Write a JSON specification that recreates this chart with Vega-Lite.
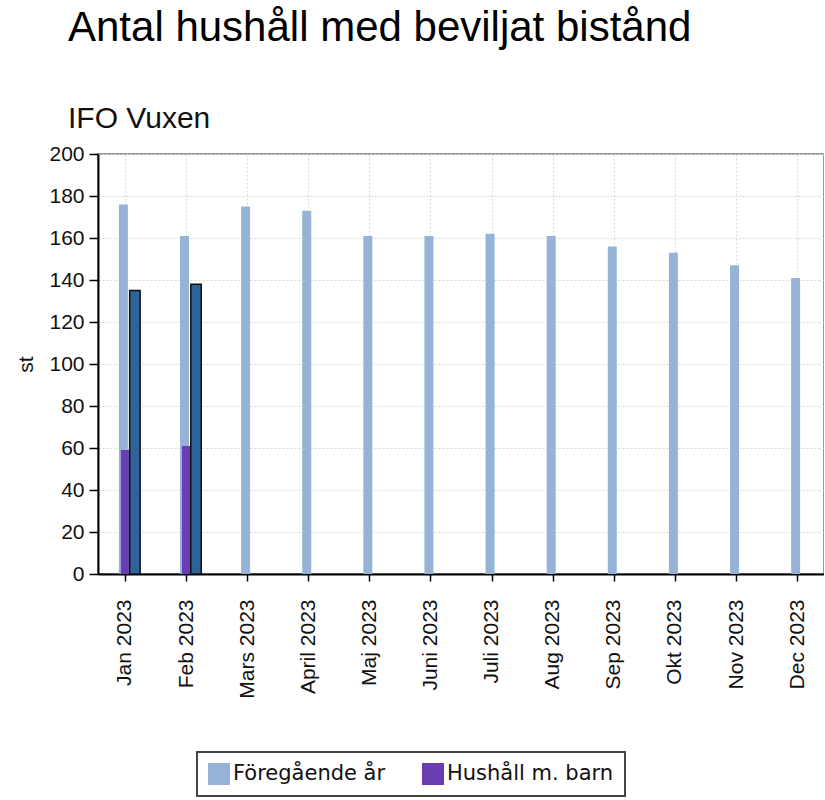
{
  "$schema": "https://vega.github.io/schema/vega-lite/v6.json",
  "width": 726,
  "height": 420,
  "padding": {"left": 15, "top": 7, "right": 0, "bottom": 0},
  "title": {
    "text": "Antal hushåll med beviljat bistånd",
    "subtitle": "IFO Vuxen",
    "anchor": "start",
    "frame": "group",
    "dx": -30,
    "fontSize": 42,
    "fontWeight": "normal",
    "color": "#000000",
    "subtitleFontSize": 30,
    "subtitleColor": "#111111",
    "subtitlePadding": 54,
    "offset": 8
  },
  "data": {
    "values": [
      {"month": "Jan 2023", "series": "Föregående år", "value": 176},
      {"month": "Feb 2023", "series": "Föregående år", "value": 161},
      {"month": "Mars 2023", "series": "Föregående år", "value": 175},
      {"month": "April 2023", "series": "Föregående år", "value": 173},
      {"month": "Maj 2023", "series": "Föregående år", "value": 161},
      {"month": "Juni 2023", "series": "Föregående år", "value": 161},
      {"month": "Juli 2023", "series": "Föregående år", "value": 162},
      {"month": "Aug 2023", "series": "Föregående år", "value": 161},
      {"month": "Sep 2023", "series": "Föregående år", "value": 156},
      {"month": "Okt 2023", "series": "Föregående år", "value": 153},
      {"month": "Nov 2023", "series": "Föregående år", "value": 147},
      {"month": "Dec 2023", "series": "Föregående år", "value": 141},
      {"month": "Jan 2023", "series": "Hushåll m. barn", "value": 59},
      {"month": "Feb 2023", "series": "Hushåll m. barn", "value": 61},
      {"month": "Jan 2023", "series": "Innevarande år", "value": 135},
      {"month": "Feb 2023", "series": "Innevarande år", "value": 138}
    ]
  },
  "encoding": {
    "x": {
      "field": "month",
      "type": "ordinal",
      "sort": ["Jan 2023", "Feb 2023", "Mars 2023", "April 2023", "Maj 2023", "Juni 2023", "Juli 2023", "Aug 2023", "Sep 2023", "Okt 2023", "Nov 2023", "Dec 2023"],
      "scale": {"type": "point", "padding": 0.44},
      "axis": {
        "title": null,
        "labelAngle": -90,
        "labelFontSize": 21,
        "labelColor": "#111111",
        "labelPadding": 18,
        "tickSize": 7,
        "tickColor": "#000000",
        "tickWidth": 1.5,
        "domainColor": "#000000",
        "domainWidth": 2,
        "grid": true,
        "gridColor": "#d6d6d6",
        "gridDash": [2, 2]
      }
    },
    "y": {
      "field": "value",
      "type": "quantitative",
      "scale": {"domain": [0, 200], "nice": false},
      "axis": {
        "title": "st",
        "values": [0, 20, 40, 60, 80, 100, 120, 140, 160, 180, 200],
        "titleFontSize": 21,
        "titleFontWeight": "normal",
        "titleColor": "#111111",
        "titlePadding": 12,
        "labelFontSize": 21,
        "labelColor": "#111111",
        "labelPadding": 5,
        "tickSize": 9,
        "tickColor": "#000000",
        "tickWidth": 1.5,
        "domainColor": "#000000",
        "domainWidth": 2,
        "grid": true,
        "gridColor": "#d6d6d6",
        "gridDash": [2, 2]
      }
    }
  },
  "layer": [
    {
      "transform": [{"filter": "datum.series === 'Föregående år'"}],
      "mark": {"type": "bar", "size": 9, "xOffset": -1.5},
      "encoding": {
        "color": {
          "field": "series",
          "type": "nominal",
          "scale": {"domain": ["Föregående år", "Hushåll m. barn"], "range": ["#95B3D7", "#6A3DB5"]},
          "legend": {
            "title": null,
            "orient": "none",
            "legendX": 99,
            "legendY": 598,
            "direction": "horizontal",
            "symbolType": "square",
            "symbolSize": 484,
            "symbolStrokeWidth": 0,
            "labelFont": "DejaVu Sans",
            "labelFontSize": 21,
            "labelColor": "#111111",
            "labelLimit": 300,
            "labelOffset": 3,
            "columnPadding": 36,
            "padding": 11,
            "strokeColor": "#444444",
            "fillColor": "#ffffff",
            "cornerRadius": 0
          }
        }
      }
    },
    {
      "transform": [{"filter": "datum.series === 'Hushåll m. barn'"}],
      "mark": {"type": "bar", "size": 8},
      "encoding": {
        "color": {
          "field": "series",
          "type": "nominal",
          "scale": {"domain": ["Föregående år", "Hushåll m. barn"], "range": ["#95B3D7", "#6A3DB5"]}
        }
      }
    },
    {
      "transform": [{"filter": "datum.series === 'Innevarande år'"}],
      "mark": {"type": "bar", "size": 10.5, "xOffset": 10, "color": "#2F6399", "stroke": "#111111", "strokeWidth": 1.5},
      "encoding": {}
    }
  ],
  "config": {
    "font": "Liberation Sans",
    "view": {"stroke": "#999999", "strokeWidth": 2},
    "legend": {"strokeWidth": 2},
    "background": "#ffffff"
  }
}
